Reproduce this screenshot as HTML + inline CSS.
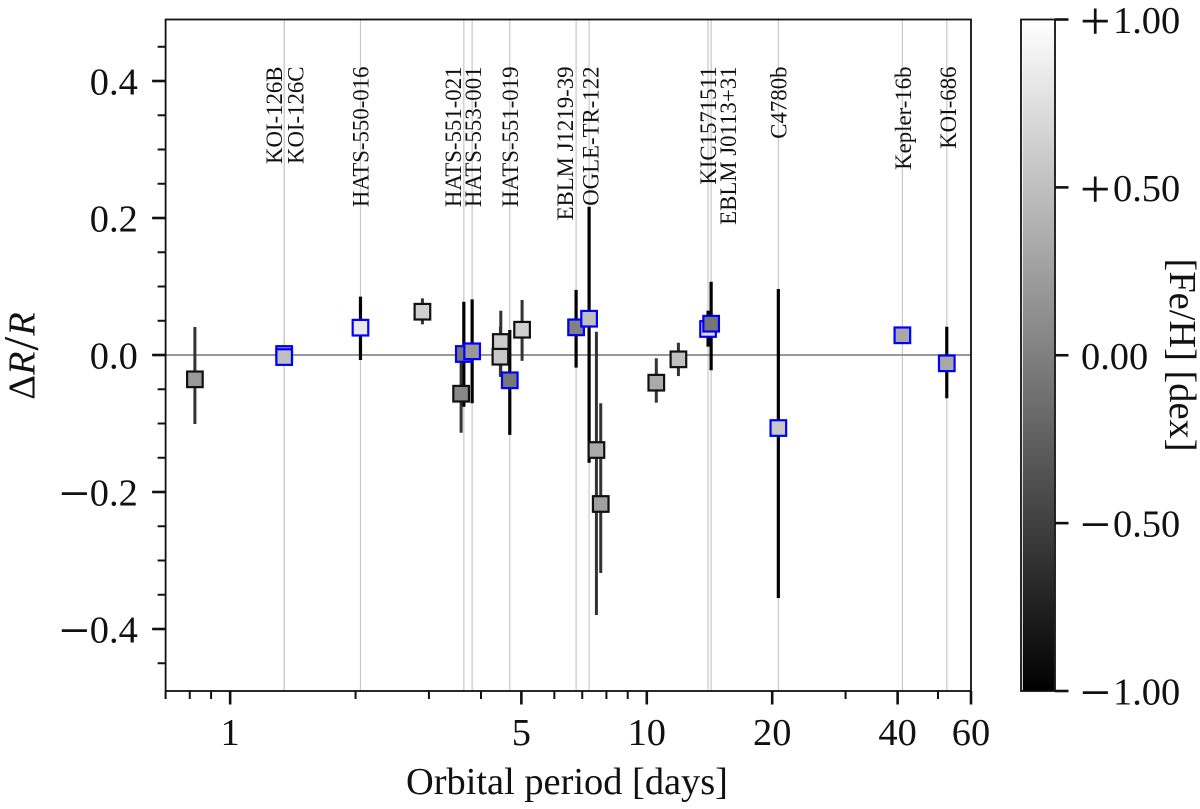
<!DOCTYPE html>
<html lang="en">
<head>
<meta charset="utf-8">
<title>Radius residual vs orbital period</title>
<style>
  html, body { margin: 0; padding: 0; background: #fff; }
  svg { display: block; }
  text { font-family: "Liberation Serif", "Times New Roman", serif; fill: #111; }
</style>
</head>
<body>
<svg id="chart" xmlns="http://www.w3.org/2000/svg" width="1200" height="809" viewBox="0 0 1200 809">
  <defs>
    <linearGradient id="grayRamp" x1="0" y1="0" x2="0" y2="1">
      <stop offset="0" stop-color="#ffffff"/>
      <stop offset="1" stop-color="#000000"/>
    </linearGradient>
  </defs>
  <rect x="0" y="0" width="1200" height="809" fill="#fff"/>
  <g id="guides"></g>
  <g id="errors"></g>
  <g id="markers"></g>
  <g id="names"></g>
  <g id="axes"></g>
  <g id="colorbar"></g>

  <text x="567" y="794" font-size="38.4" text-anchor="middle">Orbital period [days]</text>
  <text transform="translate(34.3,356) rotate(-90)" font-size="38.4" text-anchor="middle">Δ<tspan font-style="italic">R</tspan><tspan font-size="50" dy="3" dx="1">/</tspan><tspan font-style="italic" dy="-3" dx="1">R</tspan></text>
  <text transform="translate(1170,355) rotate(90)" font-size="38.4" text-anchor="middle">[Fe/H] [dex]</text>
</svg>

<script>
// Orbital period [days]
const periods = [0.823, 1.348, 1.348, 2.055, 2.894, 3.638, 3.584, 3.809, 4.463, 4.453, 4.690, 5.020, 6.766, 7.270, 7.753, 7.570, 10.54, 11.91, 14.03, 14.27, 20.69, 41.06, 52.48];
// Delta R / R
const deltaR = [-0.0355, 0.0015, -0.003, 0.0399, 0.0632, 0.0015, -0.0565, 0.0054, 0.019, -0.0025, -0.0369, 0.0369, 0.0404, 0.053, -0.2175, -0.1387, -0.0404, -0.0063, 0.038, 0.0457, -0.1066, 0.0288, -0.0121];
const errUpper = [0.0763, 0, 0, 0.0453, 0.0195, 0.0762, 0.0467, 0.0759, 0.0457, 0.0438, 0.0734, 0.0434, 0.0546, 0.1635, 0.147, 0.1727, 0.0356, 0.0242, 0.0267, 0.0613, 0.2029, 0, 0.0534];
const errLower = [0.0653, 0, 0, 0.0472, 0.0184, 0.0771, 0.0569, 0.0759, 0.0438, 0.0295, 0.0797, 0.0454, 0.0588, 0.2103, 0.1007, 0.2409, 0.0292, 0.0245, 0.0258, 0.068, 0.2482, 0, 0.0511];
// Metallicity [Fe/H] in dex, mapped to the gray colour scale
const metallicity = [0.2, 0.33, 0.5, 0.82, 0.63, -0.07, 0.07, 0.2, 0.6, 0.57, -0.07, 0.63, 0, 0.5, 0.25, 0.33, 0.33, 0.5, 0.73, -0.07, 0.57, 0.32, 0.32];
// Whether a point belongs to the highlighted sample
const highlighted = [false, true, true, true, false, true, false, true, false, false, true, false, true, true, false, false, false, false, true, true, true, true, true];
const systemNames = ['', 'KOI-126B', 'KOI-126C', 'HATS-550-016', '', 'HATS-551-021', '', 'HATS-553-001', '', '', 'HATS-551-019', '', 'EBLM J1219-39', 'OGLE-TR-122', '', '', '', '', 'KIC1571511', 'EBLM J0113+31', 'C4780b', 'Kepler-16b', 'KOI-686'];

const xMajorTicks = [1, 5, 10, 20, 40, 60];
const xMinorTicks = [0.7, 0.8, 0.9, 2, 3, 4, 6, 7, 8, 9, 30, 50];
const yMajorTicks = [-0.4, -0.2, 0.0, 0.2, 0.4];
const yMinorTicks = [-0.45, -0.35, -0.3, -0.25, -0.15, -0.1, -0.05, 0.05, 0.1, 0.15, 0.25, 0.3, 0.35, 0.45];
const colorTicks = [-1, -0.5, 0, 0.5, 1];

const NS = 'http://www.w3.org/2000/svg';
const plot = { left: 165.6, right: 971, top: 19.5, bottom: 691 };
const bar = { left: 1021, right: 1055, top: 19.5, bottom: 691 };
const xLimits = [0.7, 60];
const yLimits = [-0.4905, 0.4898];
const signSize = 54;
const signDrop = 6;

function xScale(p) {
  const a = Math.log10(xLimits[0]), b = Math.log10(xLimits[1]);
  return plot.left + (Math.log10(p) - a) / (b - a) * (plot.right - plot.left);
}
function yScale(v) {
  return plot.bottom - (v - yLimits[0]) / (yLimits[1] - yLimits[0]) * (plot.bottom - plot.top);
}
function colorScale(v) {
  return bar.bottom - (v + 1) / 2 * (bar.bottom - bar.top);
}
function grayOf(feh) {
  const g = Math.round(Math.max(0, Math.min(1, (feh + 1) / 2)) * 255);
  return 'rgb(' + g + ',' + g + ',' + g + ')';
}
function shape(parent, tag, attrs, content) {
  const el = document.createElementNS(NS, tag);
  for (const k in attrs) el.setAttribute(k, attrs[k]);
  if (content !== undefined) el.textContent = content;
  parent.appendChild(el);
  return el;
}
const gGuides = document.getElementById('guides');
const gErrors = document.getElementById('errors');
const gMarkers = document.getElementById('markers');
const gNames = document.getElementById('names');
const gAxes = document.getElementById('axes');
const gBar = document.getElementById('colorbar');

// Vertical guides at the highlighted systems
periods.forEach(function (p, i) {
  if (!highlighted[i]) return;
  const l = shape(gGuides, 'line', { x1: xScale(p), x2: xScale(p), y1: plot.top, y2: plot.bottom, stroke: '#c8c8c8', 'stroke-width': 1.2 });
  
  
});

// Zero line
const zeroLine = shape(gGuides, 'line', { x1: plot.left, x2: plot.right, y1: yScale(0), y2: yScale(0), stroke: '#8a8a8a', 'stroke-width': 1.8 });



// Error bars
periods.forEach(function (p, i) {
  const l = shape(gErrors, 'line', {
    x1: xScale(p), x2: xScale(p),
    y1: yScale(deltaR[i] + errUpper[i]), y2: yScale(deltaR[i] - errLower[i]),
    stroke: highlighted[i] ? '#000' : '#333', 'stroke-width': highlighted[i] ? 3.2 : 3
  });
  
  
});

// Markers: regular sample first, highlighted sample on top
function drawMarker(i) {
  const side = 15.6;
  const m = shape(gMarkers, 'rect', {
    x: xScale(periods[i]) - side / 2, y: yScale(deltaR[i]) - side / 2,
    width: side, height: side,
    fill: grayOf(metallicity[i]),
    stroke: highlighted[i] ? '#0000ff' : '#111', 'stroke-width': 2.2
  });
  
  
}
periods.forEach(function (p, i) { if (!highlighted[i]) drawMarker(i); });
periods.forEach(function (p, i) { if (highlighted[i]) drawMarker(i); });

// System name labels, nudged off their guide lines
function nameLabel(i, nudge) {
  const x = xScale(periods[i]) + nudge;
  const t = shape(gNames, 'text', { transform: 'translate(' + x + ',66.5) rotate(-90)', 'font-size': 22.8, 'text-anchor': 'end' }, systemNames[i]);
  
  
}
nameLabel(1, -2.3);
nameLabel(2, 19.3);
nameLabel(3, 8);
nameLabel(5, -2.7);
nameLabel(7, 8.7);
nameLabel(10, 8);
nameLabel(12, -3.3);
nameLabel(13, 9.3);
nameLabel(18, 8);
nameLabel(19, 24.7);
nameLabel(20, 8.4);
nameLabel(21, 8.4);
nameLabel(22, 9.3);

// Axes frame
const frame = shape(gAxes, 'rect', { x: plot.left, y: plot.top, width: plot.right - plot.left, height: plot.bottom - plot.top, fill: 'none', stroke: '#111', 'stroke-width': 1.8 });



xMajorTicks.forEach(function (v) {
  const t = shape(gAxes, 'line', { x1: xScale(v), x2: xScale(v), y1: plot.bottom, y2: plot.bottom + 13.5, stroke: '#111', 'stroke-width': 2.6 });
  
  
  const lab = shape(gAxes, 'text', { x: xScale(v), y: 745, 'font-size': 38.4, 'text-anchor': 'middle' }, String(v));
  
  
});
xMinorTicks.forEach(function (v) {
  const t = shape(gAxes, 'line', { x1: xScale(v), x2: xScale(v), y1: plot.bottom, y2: plot.bottom + 8, stroke: '#111', 'stroke-width': 2 });
  
  
});

yMajorTicks.forEach(function (v) {
  const t = shape(gAxes, 'line', { x1: plot.left - 13.5, x2: plot.left, y1: yScale(v), y2: yScale(v), stroke: '#111', 'stroke-width': 2.6 });
  
  
  const lab = shape(gAxes, 'text', { x: 89.8, y: yScale(v) + 13.5, 'font-size': 38.4 });
  
  
  if (v < 0) {
    shape(lab, 'tspan', { x: 59, 'font-size': signSize, dy: signDrop }, '\u2212');
    shape(lab, 'tspan', { x: 89.8, dy: -signDrop }, Math.abs(v).toFixed(1));
  } else {
    lab.textContent = v.toFixed(1);
  }
});
yMinorTicks.forEach(function (v) {
  const t = shape(gAxes, 'line', { x1: plot.left - 8, x2: plot.left, y1: yScale(v), y2: yScale(v), stroke: '#111', 'stroke-width': 2 });
  
  
});

// Colorbar
const ramp = shape(gBar, 'rect', { x: bar.left + 1.8, y: bar.top, width: bar.right - bar.left - 2.6, height: bar.bottom - bar.top, fill: 'url(#grayRamp)' });


const barFrame = shape(gBar, 'rect', { x: bar.left, y: bar.top, width: bar.right - bar.left, height: bar.bottom - bar.top, fill: 'none', stroke: '#111', 'stroke-width': 1.8 });


colorTicks.forEach(function (v) {
  const t = shape(gBar, 'line', { x1: bar.right, x2: bar.right + 13.5, y1: colorScale(v), y2: colorScale(v), stroke: '#111', 'stroke-width': 2.6 });
  
  
  const text = Math.abs(v).toFixed(2);
  const lab = shape(gBar, 'text', { x: 1081, y: colorScale(v) + 13.5, 'font-size': 38.4 });
  
  
  if (v === 0) {
    lab.textContent = text;
  } else {
    shape(lab, 'tspan', { x: 1080, 'font-size': signSize, dy: signDrop }, v > 0 ? '+' : '\u2212');
    shape(lab, 'tspan', { x: 1113, dy: -signDrop }, text);
  }
});
</script>
</body>
</html>
